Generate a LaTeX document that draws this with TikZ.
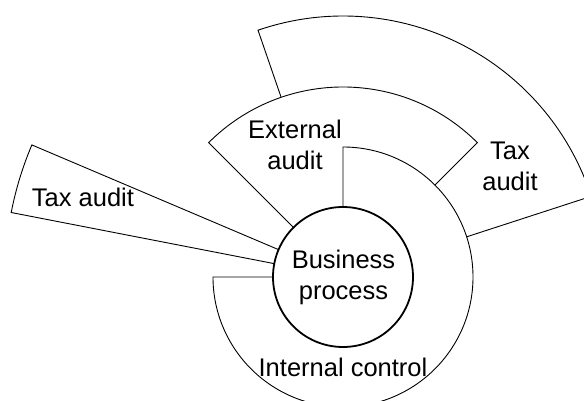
\documentclass[tikz,border=0pt]{standalone}
\usepackage{fontspec}
\setmainfont{Liberation Sans}
\begin{document}
\begin{tikzpicture}[x=1pt,y=1pt,
  sector/.style={draw=black,fill=white,line width=0.9pt,line join=miter},
  core/.style={draw=black,fill=white,line width=1.8pt,circle,minimum size=140pt,inner sep=0pt},
  lbl/.style={font=\fontsize{25.5}{31}\selectfont,align=center,anchor=base,inner sep=0pt}]
\useasboundingbox (-343,-124) rectangle (241,277);
\clip (-343,-124) rectangle (241,277);
\coordinate (c) at (0,0);
% big tax audit sector
\draw[sector] (c) -- (18:261pt) arc[start angle=18,end angle=109,radius=261pt] -- cycle;
% external audit sector
\draw[sector] (c) -- (45:190pt) arc[start angle=45,end angle=135,radius=190pt] -- cycle;
% small tax audit sector
\draw[sector] (c) -- (157:338pt) arc[start angle=157,end angle=169,radius=338pt] -- cycle;
% internal control sector
\draw[sector] (c) -- (90:130pt) arc[start angle=90,end angle=-180,radius=130pt] -- cycle;
% business process
\node[core] (bp) at (c) {};
\node[lbl] (bpt) at (0.5,-23) {Business\\process};
\node[lbl] (ext) at (-48,107) {External\\audit};
\node[lbl] (taxr) at (167,86) {Tax\\audit};
\node[lbl] (taxl) at (-260,70) {Tax audit};
\node[lbl] (ic) at (0,-100) {Internal control};
\end{tikzpicture}
\end{document}
